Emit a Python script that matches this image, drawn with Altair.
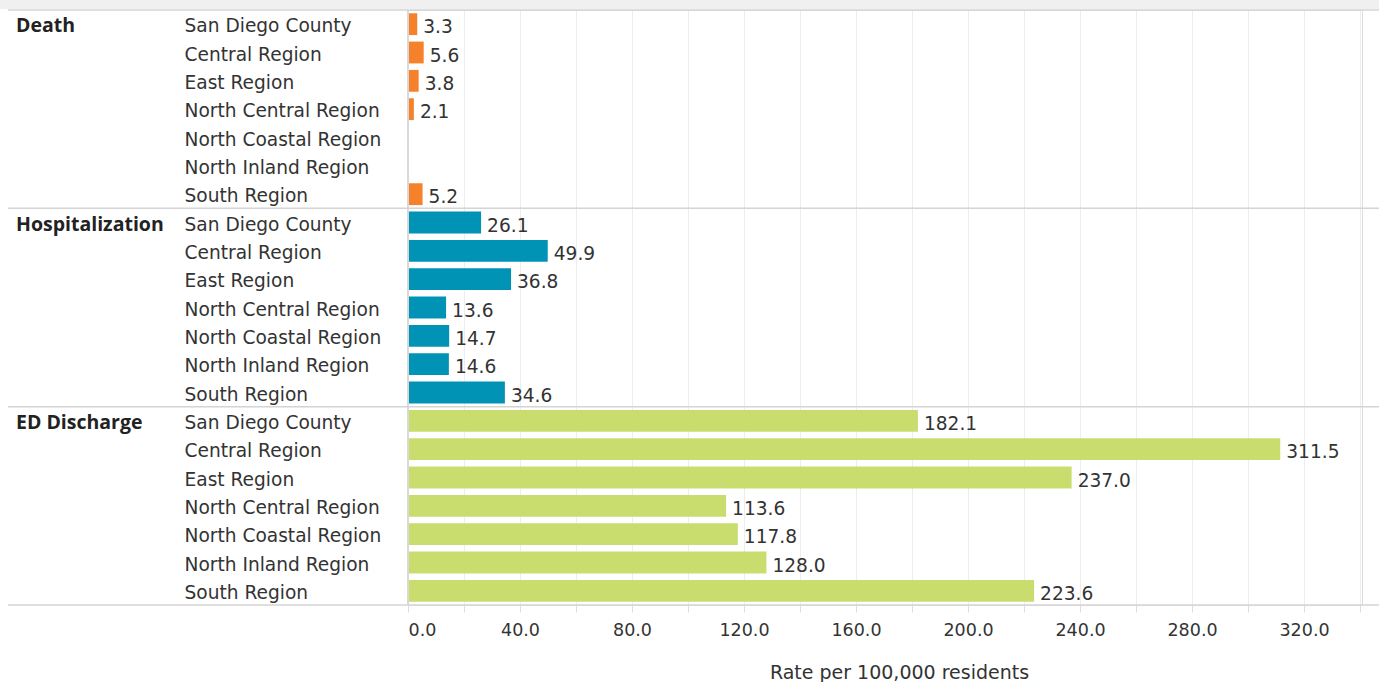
import altair as alt
import pandas as pd

groups = ["Death", "Hospitalization", "ED Discharge"]
regions = ["San Diego County", "Central Region", "East Region", "North Central Region",
           "North Coastal Region", "North Inland Region", "South Region"]
death = [3.3, 5.6, 3.8, 2.1, None, None, 5.2]
hospitalization = [26.1, 49.9, 36.8, 13.6, 14.7, 14.6, 34.6]
ed_discharge = [182.1, 311.5, 237.0, 113.6, 117.8, 128.0, 223.6]
colors = ["#F5822A", "#0093B6", "#C9DD6E"]
x_ticks = list(range(0, 341, 20))

series = [death, hospitalization, ed_discharge]
rows = []
for g, vals in zip(groups, series):
    for r, v in zip(regions, vals):
        rows.append({"group": g, "region": r, "key": g + "|" + r, "value": v})
df = pd.DataFrame(rows)
keys = list(df["key"])
vals_df = df.dropna(subset=["value"])
first_df = pd.DataFrame({"group": groups, "key": [g + "|" + regions[0] for g in groups]})
last_df = pd.DataFrame({"key": [groups[-1] + "|" + regions[-1]]})

FONT = "DejaVu Sans"
BOLD_FONT = "Open Sans"
W, H = 954, 595

yscale = alt.Scale(domain=keys, paddingInner=0, paddingOuter=0)
xscale = alt.Scale(domain=[0, 340.7], nice=False, zero=True)
color_scale = alt.Scale(domain=groups, range=colors)

bars = alt.Chart(vals_df).mark_bar(height=alt.RelativeBandSize(band=0.77)).encode(
    x=alt.X("value:Q", scale=xscale,
            axis=alt.Axis(values=x_ticks, title="Rate per 100,000 residents",
                          labelExpr="datum.value % 40 == 0 ? format(datum.value, '.1f') : ''",
                          labelFlush=True, labelOverlap=False,
                          grid=True, gridColor="#ededed", gridWidth=1,
                          domain=False, ticks=True, tickColor="#dcdcdc", tickSize=7,
                          labelPadding=9, labelFont=FONT, labelFontSize=17.5, labelColor="#333333",
                          titleFont=FONT, titleFontSize=19, titleFontWeight="normal",
                          titleColor="#333333", titlePadding=25,
                          titleX=W / 2 + 14, titleAlign="center")),
    y=alt.Y("key:N", scale=yscale, sort=keys,
            axis=alt.Axis(title=None, domain=False, ticks=False, grid=False,
                          labelExpr="split(datum.value, '|')[1]",
                          labelAlign="left", labelPadding=224, labelLimit=0, labelOffset=2,
                          labelFont=FONT, labelFontSize=18.6, labelColor="#333333")),
    color=alt.Color("group:N", scale=color_scale, legend=None),
)

texts = alt.Chart(vals_df).mark_text(align="left", baseline="middle", dx=6, dy=3,
                                     font=FONT, fontSize=18.6, color="#333333").encode(
    x=alt.X("value:Q", scale=xscale),
    y=alt.Y("key:N", scale=yscale, sort=keys),
    text=alt.Text("value:Q", format=".1f"),
)

group_labels = alt.Chart(first_df).mark_text(align="left", baseline="middle", dy=2,
                                             font=BOLD_FONT, fontSize=19.5, fontWeight="bold",
                                             color="#222222").encode(
    x=alt.value(16 - 408),
    y=alt.Y("key:N", scale=yscale, sort=keys),
    text="group:N",
)

sep_top = alt.Chart(first_df).mark_rule(color="#d4d4d4", strokeWidth=1.5).encode(
    x=alt.value(8 - 408), x2=alt.value(1379 - 408),
    y=alt.Y("key:N", scale=yscale, sort=keys, bandPosition=0),
)
sep_bottom = alt.Chart(last_df).mark_rule(color="#d4d4d4", strokeWidth=1.5).encode(
    x=alt.value(8 - 408), x2=alt.value(1379 - 408),
    y=alt.Y("key:N", scale=yscale, sort=keys, bandPosition=1),
)

zero_line = alt.Chart(first_df).mark_rule(color="#d9d9d9", strokeWidth=1.5).encode(
    x=alt.datum(0, scale=xscale),
)

header = alt.Chart(first_df.head(1)).mark_rect(color="#f0f0f0").encode(
    x=alt.value(-408), x2=alt.value(1379 - 408), y=alt.value(-10), y2=alt.value(-1),
)

chart = alt.layer(header, bars, zero_line, sep_top, sep_bottom, texts, group_labels).properties(
    width=W, height=H,
    autosize=alt.AutoSizeParams(type="none"),
    padding={"left": 408, "top": 10, "right": 17, "bottom": 77},
).configure_view(stroke=None).configure(background="white")

chart.save("out.html", embed_options={"renderer": "svg", "actions": False})
